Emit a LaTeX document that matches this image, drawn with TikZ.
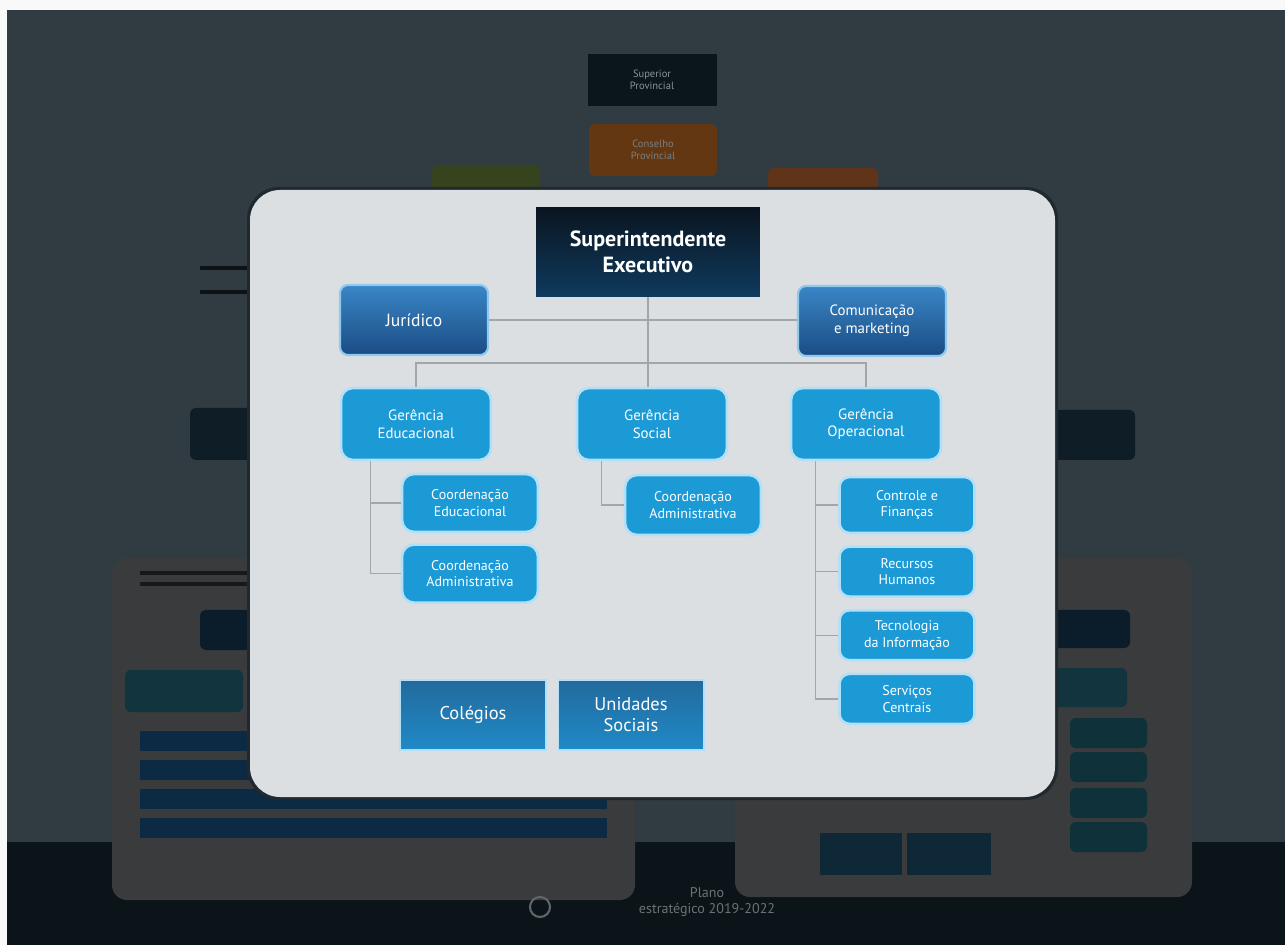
\documentclass[tikz,border=0pt]{standalone}
\usepackage{fontspec}
\setmainfont{PT Sans}
\usetikzlibrary{positioning, calc}

\definecolor{fundo}{HTML}{303B42}
\definecolor{rodape}{HTML}{0A1419}
\definecolor{painel}{HTML}{3A3B3C}
\definecolor{modal}{HTML}{DCDFE1}
\definecolor{azulclaro}{HTML}{1B9AD6}
\definecolor{bordaclara}{HTML}{B3E0F6}
\definecolor{linha}{HTML}{A2A6A9}
\definecolor{noite}{HTML}{0A1520}
\definecolor{marinho}{HTML}{0F3A5E}
\definecolor{azulsup}{HTML}{3A86C6}
\definecolor{azulinf}{HTML}{1A4C84}
\definecolor{bordastaff}{HTML}{8EC9EE}
\definecolor{unisup}{HTML}{236A9C}
\definecolor{uniinf}{HTML}{1F8AC8}
\definecolor{quasepreto}{HTML}{0B151C}
\definecolor{laranja}{HTML}{633712}
\definecolor{verde}{HTML}{35441C}
\definecolor{ferrugem}{HTML}{5F3418}
\definecolor{caixaescura}{HTML}{0E1D26}
\definecolor{caixanavy}{HTML}{0B1D2B}
\definecolor{caixateal}{HTML}{11343F}
\definecolor{barra}{HTML}{0C2A43}
\definecolor{tealbaixo}{HTML}{0F3139}
\definecolor{navybaixo}{HTML}{0E2837}
\definecolor{contorno}{HTML}{20292F}

\begin{document}
\begin{tikzpicture}[x=0.02cm, y=-0.02cm, >=stealth, node distance=0.22cm]
	\tikzstyle{chefe} = [top color=noite, bottom color=marinho, text=white, minimum width=4.48cm, minimum height=1.8cm, inner sep=0pt, align=center, font=\fontsize{12.5}{15}\selectfont\bfseries]
	\tikzstyle{staff} = [top color=azulsup, bottom color=azulinf, draw=bordastaff, line width=1.2pt, rounded corners=0.16cm, text=white, minimum width=2.96cm, minimum height=1.4cm, inner sep=0pt, align=center]
	\tikzstyle{gerencia} = [fill=azulclaro, draw=bordaclara, line width=1.5pt, rounded corners=0.24cm, text=white, minimum width=3cm, minimum height=1.44cm, inner sep=0pt, align=center, font=\fontsize{8.5}{10}\selectfont]
	\tikzstyle{coord} = [gerencia, minimum width=2.72cm, minimum height=1.16cm, font=\fontsize{8}{9.6}\selectfont]
	\tikzstyle{setor} = [coord, minimum width=2.7cm, minimum height=1.0cm, rounded corners=0.2cm]
	\tikzstyle{unidade} = [top color=unisup, bottom color=uniinf, draw=bordaclara, line width=0.6pt, text=white, minimum width=2.92cm, minimum height=1.4cm, inner sep=0pt, align=center, font=\fontsize{10.5}{12}\selectfont]
	\tikzstyle{ligacao} = [draw=linha, line width=0.8pt]
	\tikzstyle{apagado} = [rounded corners=0.12cm]

	\useasboundingbox (0,0) rectangle (1285,945);

	% fundo da pagina por tras do quadro
	\fill[white!95!gray] (0,0) rectangle (1285,945);
	\fill[fundo] (7,10) rectangle (1285,945);
	\fill[rodape] (7,842) rectangle (1285,945);

	\fill[quasepreto] (588,54) rectangle (717,106);
	\fill[laranja, apagado] (589,124) rectangle (717,176);
	\fill[verde, apagado] (432,165) rectangle (540,200);
	\fill[ferrugem, apagado] (768,168) rectangle (878,200);
	\node[text=white!45!fundo, align=center, font=\fontsize{6}{7}\selectfont] (topo) at (652,80) {Superior\\Provincial};
	\node[text=white!35!fundo, align=center, font=\fontsize{6}{7}\selectfont] (conselho) at (653,150) {Conselho\\Provincial};
	\fill[black!70!fundo] (200,266) rectangle (250,270);
	\fill[black!70!fundo] (200,290) rectangle (250,294);
	\fill[caixaescura, apagado] (190,408) rectangle (260,460);
	\fill[caixaescura, apagado] (1045,410) rectangle (1135,460);

	% paineis de baixo
	\fill[painel, rounded corners=0.3cm] (112,558) rectangle (635,900);
	\fill[painel, rounded corners=0.3cm] (735,558) rectangle (1192,897);
	\fill[black!60!painel] (140,571) rectangle (250,575);
	\fill[black!60!painel] (140,582) rectangle (250,586);
	\fill[caixanavy, apagado] (200,610) rectangle (260,650);
	\fill[caixateal, apagado] (125,670) rectangle (243,712);
	\foreach \y in {731, 760, 789, 818}
		\fill[barra] (140,\y) rectangle (607,\y+20);
	\fill[caixanavy, apagado] (1040,610) rectangle (1130,648);
	\fill[caixateal, apagado] (1040,668) rectangle (1127,707);
	\foreach \y in {718, 752, 788, 822}
		\fill[tealbaixo, apagado] (1070,\y) rectangle (1147,\y+30);
	\fill[navybaixo] (820,833) rectangle (902,875);
	\fill[navybaixo] (907,833) rectangle (991,875);

	\draw[white!35!rodape, line width=1.2pt] (540,907) circle (10);
	\node[text=white!40!rodape, align=center, font=\fontsize{8}{9}\selectfont] (plano) at (707,902) {Plano\\estratégico 2019-2022};

	% quadro em destaque
	\fill[contorno, rounded corners=0.64cm] (247,187) rectangle (1058,800);
	\fill[modal, rounded corners=0.6cm] (250,190) rectangle (1055,797);

	\node[chefe] (sup) at (648,252) {Superintendente\\Executivo};
	\node[staff, font=\fontsize{10}{12}\selectfont] (jur) at (414,320) {Jurídico};
	\node[staff, font=\fontsize{8.5}{10}\selectfont] (com) at (872,321) {Comunicação\\e marketing};

	\node[gerencia] (gedu) at (416,424) {Gerência\\Educacional};
	\node[gerencia] (gsoc) at (652,424) {Gerência\\Social};
	\node[gerencia] (gope) at (866,424) {Gerência\\Operacional};

	\node[coord] (cedu) at (470,503) {Coordenação\\Educacional};
	\node[coord, below=0.2cm of cedu] (cadm) {Coordenação\\Administrativa};
	\node[coord, minimum height=1.2cm] (cadmsoc) at (693,505) {Coordenação\\Administrativa};

	\node[setor, minimum height=1.12cm] (fin) at (907,505) {Controle e\\Finanças};
	\node[setor, below=of fin] (rh) {Recursos\\Humanos};
	\node[setor, below=of rh] (ti) {Tecnologia\\da Informação};
	\node[setor, below=of ti] (sc) {Serviços\\Centrais};

	\node[unidade] (col) at (473,715) {Colégios};
	\node[unidade, right=0.22cm of col] (uni) {Unidades\\Sociais};

	% ligacoes
	\coordinate (barra) at (648,363);
	\draw[ligacao] (sup.south) -- (sup.south |- gsoc.north);
	\draw[ligacao] (jur.east) -- (jur.east -| com.west);
	\draw[ligacao] (gedu.north) |- (barra) -| (gope.north);

	\coordinate (tedu) at ([xshift=0.62cm]gedu.south west);
	\draw[ligacao] (tedu) |- (cadm.west);
	\draw[ligacao] (tedu |- cedu.west) -- (cedu.west);

	\coordinate (tsoc) at ([xshift=0.52cm]gsoc.south west);
	\draw[ligacao] (tsoc) |- (cadmsoc.west);

	\coordinate (tope) at ([xshift=0.52cm]gope.south west);
	\draw[ligacao] (tope) |- (sc.west);
	\foreach \n in {fin, rh, ti}
		\draw[ligacao] (tope |- \n.west) -- (\n.west);
\end{tikzpicture}
\end{document}
